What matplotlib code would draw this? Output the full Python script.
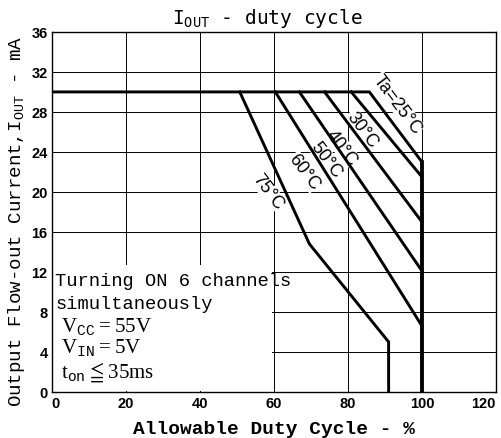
import matplotlib
matplotlib.use("Agg")
import matplotlib.pyplot as plt
from matplotlib.patches import Rectangle

plt.rcParams['mathtext.fontset'] = 'custom'
plt.rcParams['mathtext.rm'] = 'Liberation Serif'
plt.rcParams['mathtext.tt'] = 'Liberation Mono'
plt.rcParams['mathtext.sf'] = 'DejaVu Sans Mono'
plt.rcParams['mathtext.fallback'] = 'stix'

# Data: derating curves (duty cycle %, output current mA)
curve_25_x = [0, 85.8, 100, 100]
curve_25_y = [30, 30, 23.0, 0]
curve_30_x = [80.9, 100]
curve_30_y = [30, 21.5]
curve_40_x = [73.7, 100]
curve_40_y = [30, 17.0]
curve_50_x = [66.9, 100]
curve_50_y = [30, 12.1]
curve_60_x = [60.4, 100]
curve_60_y = [30, 6.6]
curve_75_x = [50.8, 69.6, 91.0, 91.0]
curve_75_y = [30, 14.8, 5.0, 0]

labels = ["Ta=25°C", "30°C", "40°C", "50°C", "60°C", "75°C"]
label_x = [93.4, 83.8, 78.3, 74.2, 68.2, 58.3]
label_y = [28.8, 26.3, 24.5, 23.3, 22.0, 20.1]

xticks = [0, 20, 40, 60, 80, 100, 120]
yticks = [0, 4, 8, 12, 16, 20, 24, 28, 32, 36]

fig = plt.figure(figsize=(5.02, 4.39), dpi=100)
ax = fig.add_axes([0.103, 0.105, 0.885, 0.820])
ax.set_xlim(0, 120)
ax.set_ylim(0, 36)
ax.set_xticks(xticks)
ax.set_yticks(yticks)
ax.grid(True, color='black', linewidth=0.7)
ax.set_axisbelow(True)
for s in ax.spines.values():
    s.set_linewidth(1.0)
ax.tick_params(length=0, pad=3)
for lab in ax.get_xticklabels() + ax.get_yticklabels():
    lab.set_fontfamily('Liberation Sans')
    lab.set_fontweight('bold')
    lab.set_fontsize(10.5)
xl = ax.get_xticklabels()
xl[-1].set_horizontalalignment('right')
xl[0].set_horizontalalignment('left')

# white area behind the note text
ax.add_patch(Rectangle((0.2, 0.1), 59.3, 12.6, facecolor='white', edgecolor='none', zorder=1))

lw = 2.1
for xs, ys in [(curve_25_x, curve_25_y), (curve_30_x, curve_30_y), (curve_40_x, curve_40_y),
               (curve_50_x, curve_50_y), (curve_60_x, curve_60_y), (curve_75_x, curve_75_y)]:
    ax.plot(xs, ys, color='black', linewidth=lw, zorder=3, solid_joinstyle='miter')
ax.plot([100, 100], [23.0, 0], color='black', linewidth=2.7, zorder=3)

for t, x, y in zip(labels, label_x, label_y):
    ax.text(x, y, t, rotation=-53, rotation_mode='anchor', ha='center', va='center',
            fontfamily='Liberation Sans', fontsize=13, zorder=2.5,
            bbox=dict(facecolor='white', edgecolor='none', pad=0.3))

ax.text(0.485, 1.008, r"I$_{\mathsf{OUT}}$ - duty cycle", transform=ax.transAxes,
        ha='center', va='bottom', fontfamily='DejaVu Sans Mono', fontsize=14)

ax.set_xlabel("Allowable Duty Cycle - %", fontfamily='Liberation Mono', fontweight='bold',
              fontsize=14, labelpad=7)
ax.set_ylabel(r"Output Flow-out Current,I$_{\mathtt{OUT}}$ - mA", fontfamily='Liberation Mono',
              fontsize=13.8)
ax.yaxis.set_label_coords(-0.056, 0.475)

ax.text(1.0, 11.1, "Turning ON 6 channels", fontfamily='Liberation Mono', fontsize=13.5,
        ha='left', va='center', zorder=4)
ax.text(1.0, 8.8, "simultaneously", fontfamily='Liberation Mono', fontsize=13.5,
        ha='left', va='center', zorder=4)
ax.text(2.6, 6.6, r"V$_{\mathtt{CC}}$$=$55V", fontfamily='Liberation Serif', fontsize=15,
        ha='left', va='center', zorder=4)
ax.text(2.6, 4.5, r"V$_{\mathtt{IN}}$$=$5V", fontfamily='Liberation Serif', fontsize=15,
        ha='left', va='center', zorder=4)
ax.text(2.6, 2.1, r"t$_{\mathtt{on}}$$\leqq$35ms", fontfamily='Liberation Serif',
        fontsize=15, ha='left', va='center', zorder=4)

fig.savefig("out.png", dpi=100)
